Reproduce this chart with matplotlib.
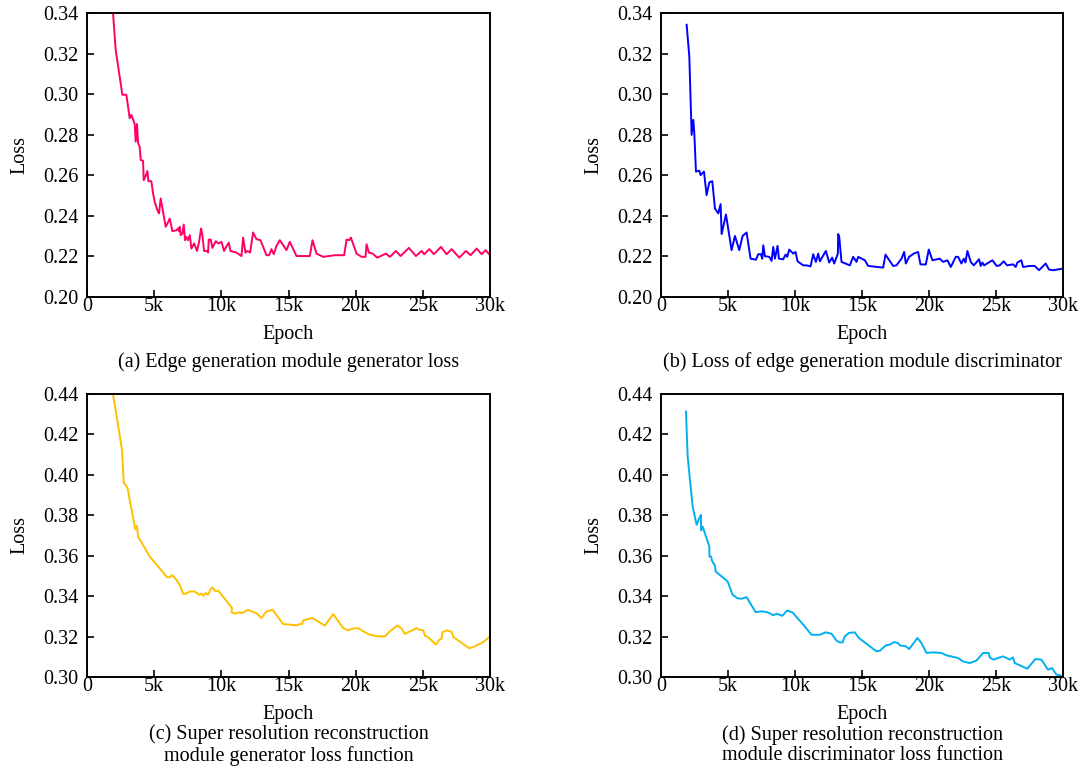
import matplotlib
matplotlib.use("Agg")
import matplotlib.pyplot as plt

plt.rcParams["font.family"] = ["Liberation Serif", "DejaVu Serif"]
plt.rcParams["mathtext.fontset"] = "stix"

# ── (a) edge generation module, generator loss ──
A_EPOCH = [1600, 1937, 2135, 2632, 2930, 3178, 3302, 3550, 3625, 3724, 3800, 3923, 4000,
           4172, 4221, 4345, 4494, 4569, 4792, 4916, 5040, 5239, 5363, 5487, 5661, 5860,
           5984, 6158, 6357, 6655, 6779, 6853, 6903, 6977, 7101, 7200, 7300, 7400, 7524,
           7648, 7772, 7971, 8194, 8343, 8492, 8591, 8715, 8939, 9013, 9063, 9212, 9336,
           9584, 9783, 10007, 10206, 10380, 10554, 10678, 11125, 11497, 11621, 11795,
           11944, 12143, 12366, 12614, 12913, 13360, 13558, 13732, 13906, 14104, 14353,
           14850, 15098, 15595, 16588, 16787, 17085, 17582, 18451, 19146, 19320, 19519,
           19643, 20065, 20437, 20735, 20810, 20984, 21257, 21604, 22250, 22548, 22995,
           23343, 23964, 24485, 24908, 25106, 25479, 25827, 26348, 26770, 27143, 27714,
           28211, 28559, 29006, 29379, 29677, 30000]
A_LOSS = [0.352, 0.340, 0.3219, 0.2997, 0.2997, 0.2881, 0.2898, 0.2853, 0.2766, 0.2853,
          0.2758, 0.2741, 0.2675, 0.2672, 0.2576, 0.2593, 0.2621, 0.2571, 0.2571, 0.2511,
          0.2469, 0.2428, 0.2412, 0.2486, 0.2420, 0.2346, 0.2362, 0.2387, 0.2324, 0.2329,
          0.2338, 0.2324, 0.2346, 0.2305, 0.2313, 0.2357, 0.2280, 0.2296, 0.2280, 0.2305,
          0.2239, 0.2264, 0.2227, 0.2272, 0.2338, 0.2305, 0.2227, 0.2227, 0.2219, 0.2283,
          0.2283, 0.2242, 0.2275, 0.2264, 0.2272, 0.2227, 0.2250, 0.2268, 0.2227, 0.2219,
          0.2202, 0.2293, 0.2219, 0.2227, 0.2219, 0.2318, 0.2285, 0.2280, 0.2206, 0.2206,
          0.2236, 0.2211, 0.2252, 0.2280, 0.2231, 0.2272, 0.2202, 0.2202, 0.2280, 0.2214,
          0.2198, 0.2206, 0.2206, 0.2283, 0.2280, 0.2293, 0.2214, 0.2198, 0.2198, 0.2260,
          0.2219, 0.2214, 0.2194, 0.2214, 0.2198, 0.2227, 0.2202, 0.2242, 0.2202, 0.2227,
          0.2211, 0.2236, 0.2211, 0.2247, 0.2211, 0.2236, 0.2194, 0.2227, 0.2206, 0.2239,
          0.2211, 0.2231, 0.2206]

# ── (b) edge generation module, discriminator loss ──
B_EPOCH = [1914, 2113, 2287, 2411, 2486, 2610, 2858, 2958, 3206, 3405, 3604, 3828, 4026,
           4275, 4449, 4524, 4847, 5269, 5518, 5841, 6090, 6388, 6562, 6686, 7084, 7258,
           7457, 7556, 7631, 7755, 8078, 8252, 8376, 8500, 8699, 8799, 9122, 9296, 9420,
           9569, 9868, 10041, 10190, 10613, 10862, 11160, 11359, 11558, 11732, 11856,
           12303, 12552, 12776, 12925, 13200, 13223, 13298, 13472, 14093, 14342, 14590,
           14715, 15212, 15461, 16579, 16753, 17325, 17573, 17946, 18145, 18270, 18518,
           18866, 19188, 19362, 19760, 19984, 20257, 20804, 21053, 21376, 21625, 21998,
           22172, 22420, 22594, 22718, 22868, 23116, 23340, 23738, 23862, 23986, 24110,
           24731, 25050, 25278, 25577, 25825, 26272, 26471, 26595, 26893, 27017, 27515,
           27888, 28211, 28708, 28957, 29255, 30000]
B_LOSS = [0.3342, 0.3186, 0.2799, 0.2873, 0.2807, 0.2618, 0.2623, 0.2601, 0.2618, 0.2502,
          0.2565, 0.2571, 0.2436, 0.2412, 0.2458, 0.2310, 0.2407, 0.2231, 0.2301, 0.2231,
          0.2301, 0.2318, 0.2242, 0.2189, 0.2184, 0.2211, 0.2211, 0.2189, 0.2255, 0.2201,
          0.2198, 0.2178, 0.2247, 0.2189, 0.2252, 0.2189, 0.2186, 0.2209, 0.2198, 0.2234,
          0.2214, 0.2222, 0.2176, 0.2156, 0.2156, 0.2151, 0.2211, 0.2173, 0.2214, 0.2176,
          0.2227, 0.2170, 0.2194, 0.2165, 0.2214, 0.2310, 0.2297, 0.2173, 0.2156, 0.2198,
          0.2173, 0.2198, 0.2181, 0.2153, 0.2145, 0.2209, 0.2153, 0.2156, 0.2189, 0.2222,
          0.2165, 0.2198, 0.2214, 0.2222, 0.2161, 0.2160, 0.2234, 0.2181, 0.2189, 0.2173,
          0.2181, 0.2148, 0.2198, 0.2198, 0.2165, 0.2189, 0.2170, 0.2227, 0.2173, 0.2156,
          0.2186, 0.2153, 0.2170, 0.2156, 0.2181, 0.2153, 0.2156, 0.2176, 0.2156, 0.2161,
          0.2148, 0.2170, 0.2181, 0.2148, 0.2153, 0.2153, 0.2132, 0.2165, 0.2135, 0.2132,
          0.2140]

# ── (c) super resolution reconstruction module, generator loss ──
C_EPOCH = [1700, 1937, 2607, 2731, 2930, 3054, 3129, 3600, 3725, 3800, 4669, 5960, 6158,
           6357, 6655, 6903, 7151, 7350, 7648, 8020, 8343, 8517, 8641, 8839, 9013, 9187,
           9336, 9584, 9758, 10801, 10753, 11000, 11373, 11547, 11994, 12366, 12614,
           12987, 13360, 13807, 14601, 15098, 15595, 15844, 16018, 16092, 16762, 17706,
           18327, 19073, 19445, 19768, 20190, 20562, 21058, 21679, 22176, 22548, 23119,
           23417, 23665, 24534, 24708, 25031, 25155, 25404, 25975, 26223, 26397, 26447,
           26770, 27143, 27267, 28459, 28757, 29502, 30000]
C_LOSS = [0.446, 0.440, 0.4123, 0.3962, 0.3945, 0.3926, 0.3893, 0.3730, 0.3748, 0.3695,
          0.3596, 0.3494, 0.3494, 0.3504, 0.3481, 0.3456, 0.3412, 0.3412, 0.3423, 0.3423,
          0.3407, 0.3412, 0.3402, 0.3415, 0.3407, 0.3432, 0.3443, 0.3423, 0.3428, 0.3341,
          0.3321, 0.3313, 0.3321, 0.3316, 0.3333, 0.3321, 0.3316, 0.3292, 0.3324, 0.3333,
          0.3262, 0.3259, 0.3255, 0.3262, 0.3262, 0.3280, 0.3292, 0.3254, 0.3311, 0.3242,
          0.3231, 0.3239, 0.3242, 0.3226, 0.3209, 0.3201, 0.3201, 0.3226, 0.3255, 0.3239,
          0.3213, 0.3242, 0.3234, 0.3231, 0.3204, 0.3196, 0.3160, 0.3184, 0.3189, 0.3221,
          0.3231, 0.3223, 0.3198, 0.3142, 0.3148, 0.3173, 0.3201]

# ── (d) super resolution reconstruction module, discriminator loss ──
D_EPOCH = [1864, 1989, 2162, 2361, 2659, 2858, 2983, 2990, 3107, 3604, 3620, 3728, 3828,
           4026, 4076, 4971, 5344, 5692, 6015, 6388, 7059, 7556, 8003, 8376, 8624, 9047,
           9420, 9818, 10613, 11234, 11856, 12278, 12726, 13099, 13348, 13547, 13720,
           14019, 14466, 14765, 16081, 16330, 16777, 17076, 17399, 17698, 17822, 18270,
           18518, 19138, 19436, 19810, 20307, 20928, 21301, 22171, 22544, 23041, 23538,
           24035, 24458, 24532, 24781, 25527, 26024, 26272, 26396, 27341, 27937, 28385,
           28882, 29181, 29504, 29802, 30000]
D_LOSS = [0.4313, 0.4090, 0.3975, 0.3843, 0.3753, 0.3786, 0.3802, 0.3725, 0.3744, 0.3646,
          0.3596, 0.3596, 0.3572, 0.3552, 0.3522, 0.3473, 0.3407, 0.3390, 0.3387, 0.3395,
          0.3321, 0.3325, 0.3319, 0.3305, 0.3313, 0.3303, 0.3329, 0.3319, 0.3259, 0.3209,
          0.3209, 0.3221, 0.3214, 0.3180, 0.3171, 0.3171, 0.3201, 0.3218, 0.3221, 0.3193,
          0.3127, 0.3130, 0.3156, 0.3160, 0.3173, 0.3168, 0.3156, 0.3152, 0.3138, 0.3193,
          0.3168, 0.3119, 0.3122, 0.3119, 0.3107, 0.3094, 0.3077, 0.3069, 0.3081, 0.3119,
          0.3119, 0.3097, 0.3086, 0.3102, 0.3086, 0.3097, 0.3069, 0.3041, 0.3089, 0.3086,
          0.3036, 0.3044, 0.3012, 0.3008, 0.2995]

X_TICKS = [0, 5000, 10000, 15000, 20000, 25000, 30000]
X_TICK_LABELS = ["0", "5k", "10k", "15k", "20k", "25k", "30k"]
TOP_YTICKS = [0.20, 0.22, 0.24, 0.26, 0.28, 0.30, 0.32, 0.34]
BOT_YTICKS = [0.30, 0.32, 0.34, 0.36, 0.38, 0.40, 0.42, 0.44]

CAPTIONS = [
    "(a) Edge generation module generator loss",
    "(b) Loss of edge generation module discriminator",
    "(c) Super resolution reconstruction\nmodule generator loss function",
    "(d) Super resolution reconstruction\nmodule discriminator loss function",
]

PANELS = [
    (A_EPOCH, A_LOSS, "#ff0066", TOP_YTICKS),
    (B_EPOCH, B_LOSS, "#0000ff", TOP_YTICKS),
    (C_EPOCH, C_LOSS, "#ffc000", BOT_YTICKS),
    (D_EPOCH, D_LOSS, "#00b0f0", BOT_YTICKS),
]

W, H = 1086, 769
# axes boxes in pixels: left, top, right, bottom
BOXES = [(87, 13, 490, 297), (661, 13, 1063, 297),
         (87, 394, 490, 677), (661, 394, 1063, 677)]

fig = plt.figure(figsize=(W / 100, H / 100), dpi=100)
fig.patch.set_facecolor("white")

FS = 14.5

for i, ((xs, ys, color, yticks), box) in enumerate(zip(PANELS, BOXES)):
    l, t, r, b = box
    aw, ah = r - l, b - t
    ax = fig.add_axes([l / W, 1 - b / H, aw / W, ah / H])
    ax.plot(xs, ys, color=color, linewidth=1.4)
    ax.set_xlim(0, 30000)
    ax.set_ylim(yticks[0], yticks[-1])
    ax.set_xticks(X_TICKS)
    ax.set_xticklabels(X_TICK_LABELS)
    ax.set_yticks(yticks)
    ax.set_yticklabels([f"{v:.2f}" for v in yticks])
    ax.tick_params(direction="in", length=5, width=1.2, labelsize=FS,
                   top=False, right=False)
    ax.tick_params(axis="x", pad=0)
    ax.tick_params(axis="y", pad=6)
    for s in ax.spines.values():
        s.set_linewidth(1.4)
    ax.set_ylabel("Loss", fontsize=FS, va="center")
    ax.yaxis.set_label_coords(-67 / aw, 0.5)
    ax.set_xlabel("Epoch", fontsize=FS, va="center")
    ax.xaxis.set_label_coords(0.5, -37 / ah)

    cx = (l + r) / 2
    if i < 2:
        fig.text(cx / W, 1 - 362 / H, CAPTIONS[i], fontsize=FS,
                 ha="center", va="center")
    else:
        fig.text(cx / W, 1 - 745 / H, CAPTIONS[i], fontsize=FS,
                 ha="center", va="center", linespacing=1.1)

fig.savefig("out.png", dpi=100, facecolor="white")
